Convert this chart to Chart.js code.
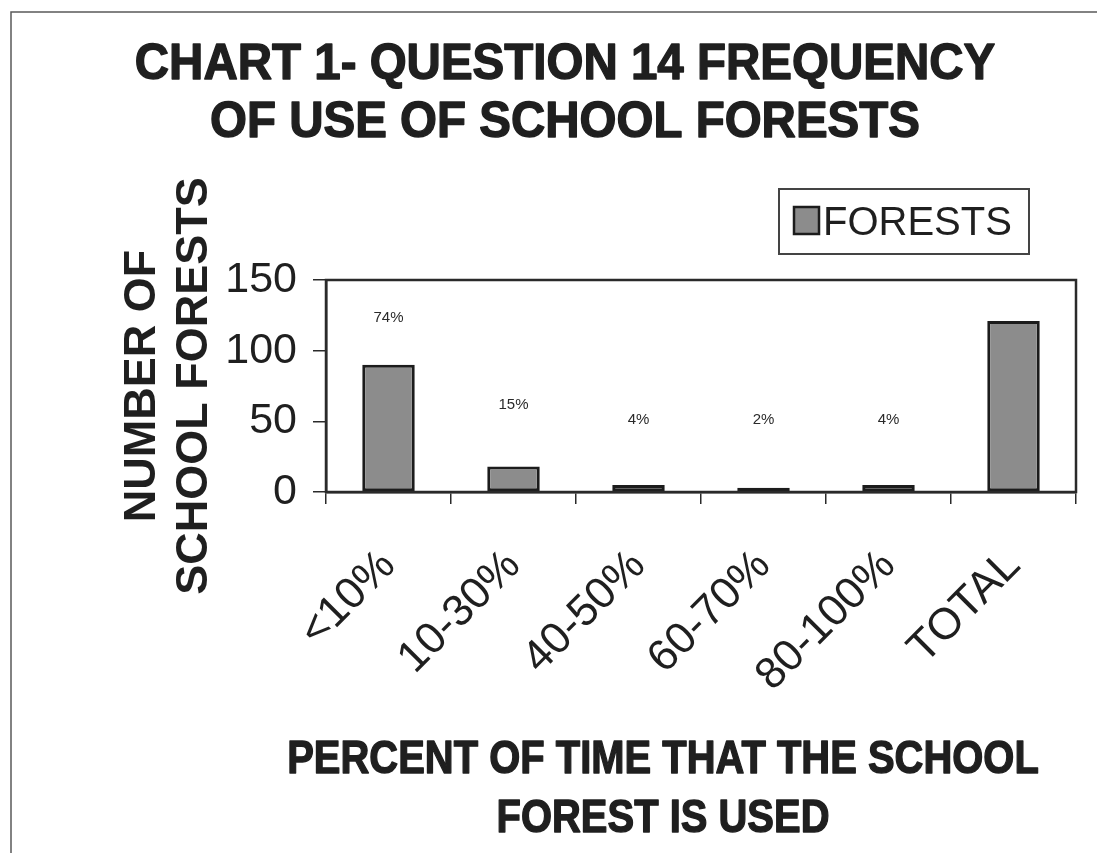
<!DOCTYPE html>
<html>
<head>
<meta charset="utf-8">
<script src="https://cdn.jsdelivr.net/npm/chart.js@4.4.1/dist/chart.umd.min.js"></script>
<style>
  html, body { margin: 0; padding: 0; background: #ffffff; }
  #wrap { position: relative; width: 1097px; height: 853px; }
  canvas { display: block; }
</style>
</head>
<body>
<div id="wrap"><canvas id="chart" width="1097" height="853"></canvas></div>
<script>
// Survey counts: how often each school forest is used
const categories = ['<10%', '10-30%', '40-50%', '60-70%', '80-100%', 'TOTAL'];
const forests = [90, 18, 5, 3, 5, 121];
const seriesName = 'FORESTS';
const yTickValues = [0, 50, 100, 150];
const titleLines = ['CHART 1- QUESTION 14 FREQUENCY', 'OF USE OF SCHOOL FORESTS'];
const yTitleLines = ['NUMBER OF', 'SCHOOL FORESTS'];
const xTitleLines = ['PERCENT OF TIME THAT THE SCHOOL', 'FOREST IS USED'];

// share of the total for every band (the last column is the total itself)
const totalCount = forests[forests.length - 1];
const shareLabels = forests.slice(0, -1).map(v => Math.round(v / totalCount * 100) + '%');

const INK = '#1f1f1f';
const SANS = '"Liberation Sans", Arial, sans-serif';

// heavy, slightly condensed heading text
function headingText(ctx, text, x, y, sx) {
  ctx.save();
  ctx.translate(x, y);
  ctx.scale(sx, 1);
  ctx.lineJoin = 'round';
  ctx.lineWidth = 1.4;
  ctx.strokeStyle = ctx.fillStyle;
  ctx.fillText(text, 0, 0);
  ctx.strokeText(text, 0, 0);
  ctx.restore();
}

// page frame, white ground
const pageFrame = {
  id: 'pageFrame',
  beforeDraw(chart) {
    const ctx = chart.ctx;
    ctx.save();
    ctx.fillStyle = '#ffffff';
    ctx.fillRect(0, 0, chart.width, chart.height);
    ctx.strokeStyle = '#5a5a5a';
    ctx.lineWidth = 1.5;
    ctx.beginPath();
    ctx.moveTo(11, chart.height);
    ctx.lineTo(11, 12);
    ctx.lineTo(chart.width, 12);
    ctx.stroke();
    ctx.restore();
  }
};

// box around the plot area
const plotBox = {
  id: 'plotBox',
  afterDraw(chart) {
    const { ctx, chartArea: a } = chart;
    ctx.save();
    ctx.strokeStyle = '#2a2a2a';
    ctx.lineWidth = 2.5;
    ctx.strokeRect(a.left, a.top, a.right - a.left, a.bottom - a.top);
    ctx.restore();
  }
};

// titles, axis titles, share labels and legend
const annotations = {
  id: 'annotations',
  afterDraw(chart, args, opts) {
    const ctx = chart.ctx;
    const xs = chart.scales.x, ys = chart.scales.y;
    ctx.save();
    ctx.fillStyle = INK;
    ctx.textAlign = 'center';
    ctx.textBaseline = 'alphabetic';

    // chart title
    ctx.font = 'bold 50px ' + SANS;
    titleLines.forEach((t, i) => headingText(ctx, t, opts.titleX, opts.titleBase[i], opts.titleSqueeze));

    // x axis title
    ctx.font = 'bold 47px ' + SANS;
    xTitleLines.forEach((t, i) => headingText(ctx, t, opts.xTitleX, opts.xTitleBase[i], opts.xTitleSqueeze));

    // y axis title, read bottom to top
    ctx.font = 'bold 45px ' + SANS;
    yTitleLines.forEach((t, i) => {
      ctx.save();
      ctx.translate(opts.yTitleBase[i], (ys.top + ys.bottom) / 2);
      ctx.rotate(-Math.PI / 2);
      ctx.fillText(t, 0, 0);
      ctx.restore();
    });

    // share of total above each band
    ctx.font = '15px ' + SANS;
    ctx.fillStyle = '#2a2a2a';
    ctx.textBaseline = 'middle';
    shareLabels.forEach((s, i) => {
      ctx.fillText(s, xs.getPixelForValue(i), ys.getPixelForValue(opts.shareAt[i]));
    });

    // legend
    const ds = chart.data.datasets[0];
    const L = opts.legend;
    ctx.strokeStyle = '#444444';
    ctx.lineWidth = 2;
    ctx.strokeRect(L.x, L.y, L.w, L.h);
    ctx.fillStyle = ds.backgroundColor;
    ctx.fillRect(L.x + 15, L.y + 18, 25, 27);
    ctx.strokeStyle = ds.borderColor;
    ctx.lineWidth = 2.5;
    ctx.strokeRect(L.x + 15, L.y + 18, 25, 27);
    ctx.fillStyle = INK;
    ctx.textAlign = 'left';
    ctx.textBaseline = 'alphabetic';
    ctx.font = '40px ' + SANS;
    ctx.fillText(ds.label, L.x + 44, L.y + 46);
    ctx.restore();
  }
};

new Chart(document.getElementById('chart'), {
  type: 'bar',
  data: {
    labels: categories,
    datasets: [{
      label: seriesName,
      data: forests,
      backgroundColor: '#8c8c8c',
      borderColor: '#1c1c1c',
      borderWidth: 3,
      borderSkipped: false,
      barPercentage: 0.42,
      categoryPercentage: 1.0
    }]
  },
  options: {
    responsive: false,
    animation: false,
    devicePixelRatio: 1,
    layout: { padding: { top: 280, right: 21, left: 0, bottom: 0 } },
    plugins: {
      legend: { display: false },
      title: { display: false },
      tooltip: { enabled: false },
      annotations: {
        titleX: 565,
        titleBase: [79, 137],
        titleSqueeze: 0.95,
        xTitleX: 663,
        xTitleBase: [773, 832],
        xTitleSqueeze: 0.85,
        yTitleBase: [155, 207],
        shareAt: [123, 62, 51, 51, 51],
        legend: { x: 779, y: 189, w: 250, h: 65 }
      }
    },
    scales: {
      x: {
        offset: true,
        afterFit(scale) { scale.height = 853 - 492; },
        grid: {
          offset: true,
          drawOnChartArea: false,
          drawTicks: true,
          tickLength: 12,
          color: '#2a2a2a',
          lineWidth: 1.5
        },
        border: { display: true, color: '#2a2a2a', width: 2.5 },
        ticks: {
          maxRotation: 45,
          minRotation: 45,
          autoSkip: false,
          padding: 36,
          color: INK,
          font: { family: SANS, size: 44 }
        }
      },
      y: {
        min: 0,
        max: 150,
        afterFit(scale) { scale.width = 326; },
        afterBuildTicks(scale) { scale.ticks = yTickValues.map(v => ({ value: v })); },
        grid: {
          drawOnChartArea: false,
          drawTicks: true,
          tickLength: 13,
          color: '#2a2a2a',
          lineWidth: 1.5
        },
        border: { display: true, color: '#2a2a2a', width: 2.5 },
        ticks: {
          padding: 16,
          color: INK,
          font: { family: SANS, size: 43 }
        }
      }
    }
  },
  plugins: [pageFrame, plotBox, annotations]
});
</script>
</body>
</html>
